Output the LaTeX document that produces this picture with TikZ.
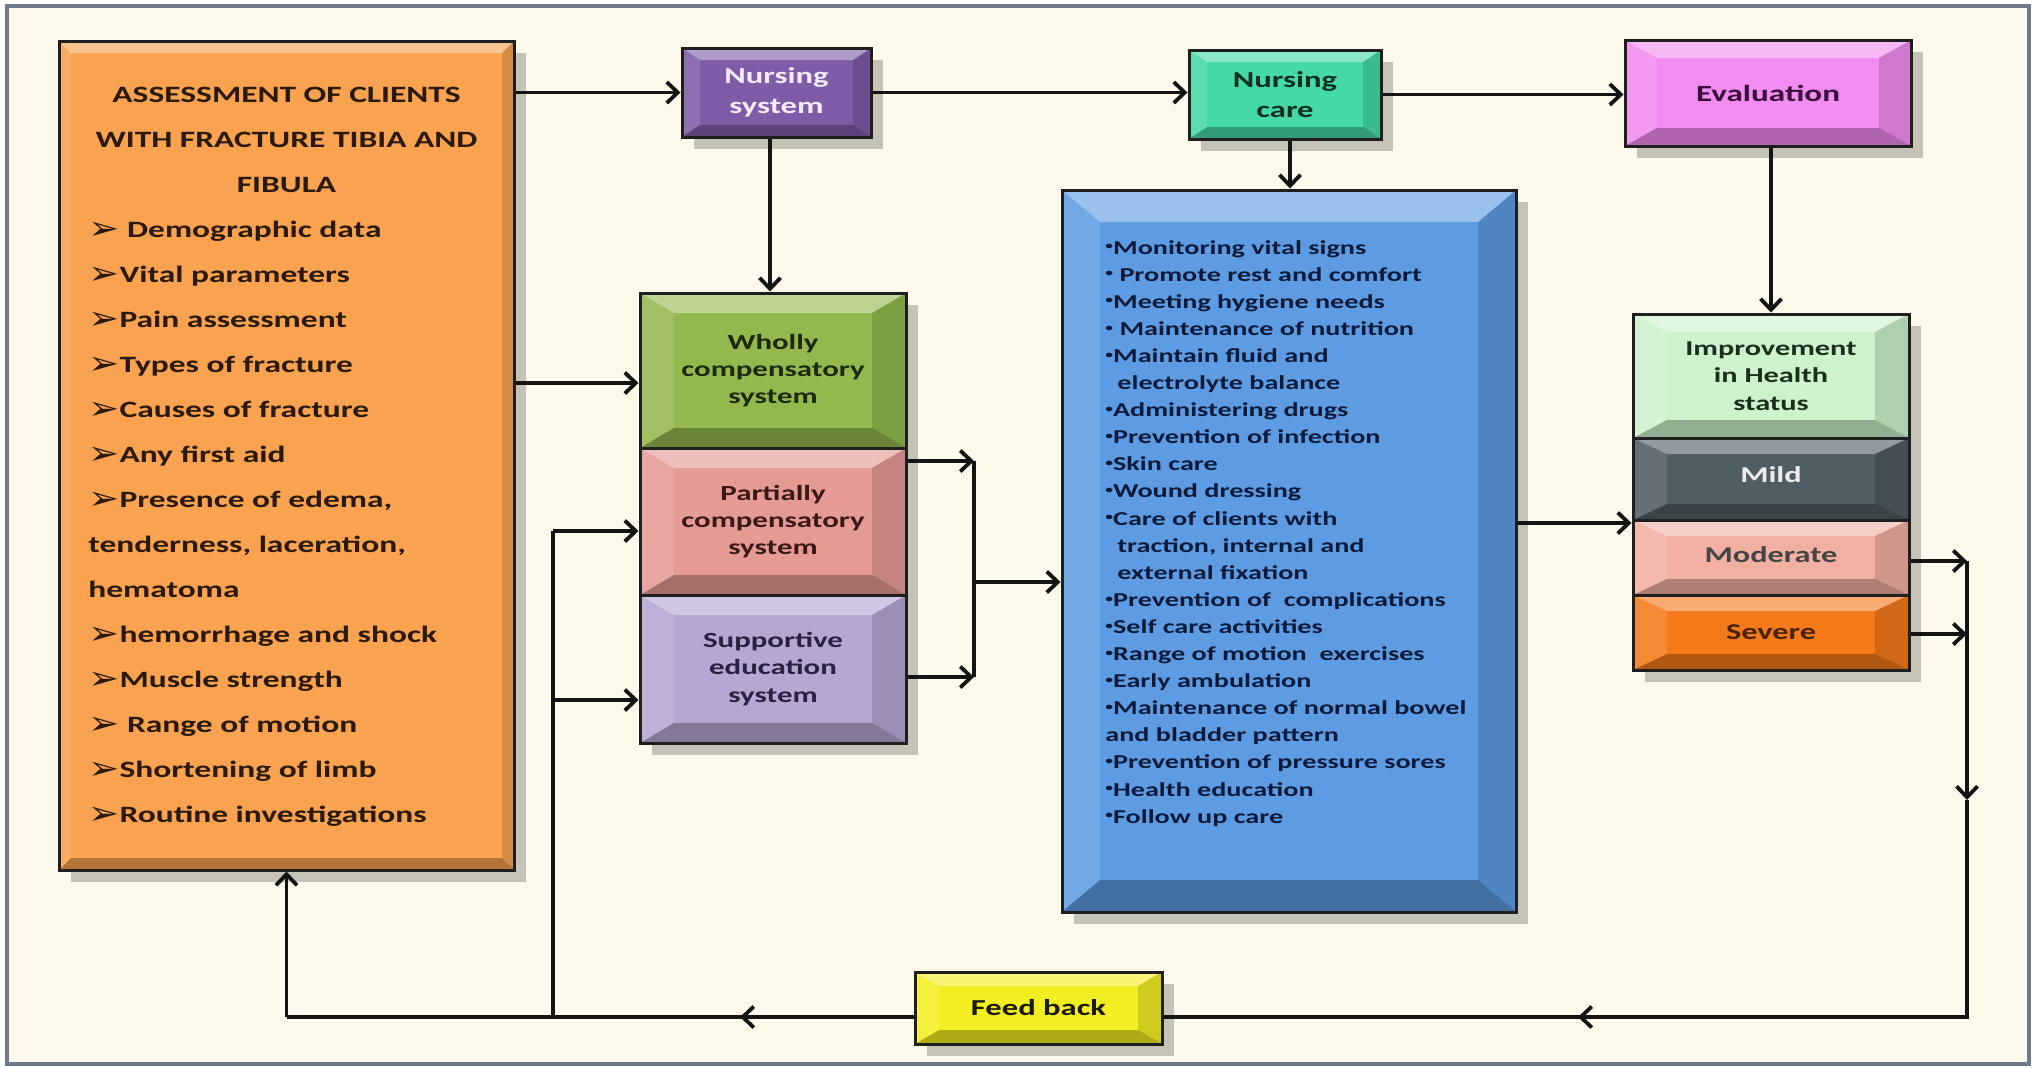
\documentclass[tikz,border=0pt]{standalone}
\usepackage{fontspec}
\setmainfont[FakeStretch=1.43]{Carlito}
\newfontfamily\dv[FakeStretch=1.1]{DejaVu Sans}
\usetikzlibrary{arrows.meta,shadows,calc}
\newcommand\fz[2]{\fontsize{#1}{#2}\selectfont}
\newcommand\arb{{\dv\fz{13}{13}\raisebox{-1pt}{\scalebox{1.3}[1.25]{➢}}}}
\newcommand\bul{\raisebox{0.45ex}{\scalebox{0.55}{•}}}
\definecolor{bgc}{HTML}{FDF9EA}
\definecolor{framec}{HTML}{6E7A8C}
\definecolor{orF}{HTML}{F9A24F}
\definecolor{puF}{HTML}{7F5CA8}
\definecolor{teF}{HTML}{45D9A5}
\definecolor{piF}{HTML}{F28CF0}
\definecolor{grF}{HTML}{93B84E}
\definecolor{paF}{HTML}{E59A94}
\definecolor{suF}{HTML}{B7A6D3}
\definecolor{blF}{HTML}{5D9CE2}
\definecolor{imF}{HTML}{CCF3CC}
\definecolor{miF}{HTML}{4F5D64}
\definecolor{moF}{HTML}{F2B0A3}
\definecolor{seF}{HTML}{F47A1A}
\definecolor{yeF}{HTML}{F3EE22}
\definecolor{obrown}{HTML}{2B1A0B}
\definecolor{bnavy}{HTML}{0B1A3A}
\definecolor{tdark}{HTML}{0F2F22}
\definecolor{pdark}{HTML}{3B0F3B}
\definecolor{gdark}{HTML}{1C2A0C}
\definecolor{rdark}{HTML}{3A1818}
\definecolor{ldark}{HTML}{2A2040}
\definecolor{idark}{HTML}{1E2E1E}
\definecolor{mdark}{HTML}{454545}
\definecolor{sdark}{HTML}{4A2205}
\definecolor{ydark}{HTML}{1A1A00}
\definecolor{nslight}{HTML}{F3ECFF}
\begin{document}
\begin{tikzpicture}[x=0.5pt,y=-0.5pt,
  box/.style={rectangle, draw=black!88, line width=1.5pt, inner sep=0pt, align=center,
    font=\bfseries\fz{11.2}{15},
    drop shadow={shadow xshift=6pt, shadow yshift=-6pt, opacity=.22, fill=black}},
  bev/.style 2 args={path picture={
    \path (path picture bounding box.north west) coordinate (pA)
          (path picture bounding box.north east) coordinate (pB)
          (path picture bounding box.south east) coordinate (pC)
          (path picture bounding box.south west) coordinate (pD);
    \fill[white,opacity=.38] (pA) -- (pB) -- ([shift={(-#1,-#2)}]pB) -- ([shift={(#1,-#2)}]pA) -- cycle;
    \fill[white,opacity=.12] (pA) -- ([shift={(#1,-#2)}]pA) -- ([shift={(#1,#2)}]pD) -- (pD) -- cycle;
    \fill[black,opacity=.14] (pB) -- (pC) -- ([shift={(-#1,#2)}]pC) -- ([shift={(-#1,-#2)}]pB) -- cycle;
    \fill[black,opacity=.28] (pD) -- (pC) -- ([shift={(-#1,#2)}]pC) -- ([shift={(#1,#2)}]pD) -- cycle;
  }},
  arr/.style={draw=black!92, line width=1.9pt, -{Straight Barb[length=5.5pt,width=10.5pt]}},
  ln/.style={draw=black!92, line width=1.9pt},
  otxt/.style={inner sep=0pt, font=\bfseries\fz{11.7}{14}, text=obrown},
  btxt/.style={inner sep=0pt, font=\bfseries\fz{9.85}{12}, text=bnavy},
]
\useasboundingbox (0,0) rectangle (2037,1067);
\fill[white] (0,0) rectangle (2037,1067);
\draw[fill=bgc, draw=framec, line width=1.6pt] (7,6) rectangle (2029,1064);

% boxes
\node[box, bev={6pt}{6pt}, fill=orF, minimum width=227.5pt, minimum height=414.5pt] (assess) at (286.5,455.5) {};
\node[box, bev={9pt}{6pt}, fill=puF, text=nslight, minimum width=94.5pt, minimum height=44.5pt, font=\bfseries\fz{11.4}{15}] (nsys) at (776.5,92.5) {Nursing\\system};
\node[box, bev={9pt}{6pt}, fill=teF, text=tdark, minimum width=96pt, minimum height=44.5pt, font=\bfseries\fz{11.4}{15}] (ncare) at (1285,94.5) {\raisebox{-3pt}{Nursing}\\\raisebox{-3pt}{care}};
\node[box, bev={16pt}{9pt}, fill=piF, text=pdark, minimum width=143pt, minimum height=53pt, font=\bfseries\fz{11.6}{15}] (eval) at (1768,93) {Evaluation};
\node[box, bev={17pt}{10pt}, fill=grF, text=gdark, minimum width=133pt, minimum height=77.5pt, font=\bfseries\fz{10.8}{13.6}] (wholly) at (773,370.5) {Wholly\\compensatory\\system};
\node[box, bev={17pt}{10pt}, fill=paF, text=rdark, minimum width=133pt, minimum height=73.5pt, font=\bfseries\fz{10.8}{13.6}] (partial) at (773,521.5) {Partially\\compensatory\\system};
\node[box, bev={17pt}{10pt}, fill=suF, text=ldark, minimum width=133pt, minimum height=74pt, font=\bfseries\fz{10.8}{13.6}] (support) at (773,669) {Supportive\\education\\system};
\node[box, bev={19pt}{16pt}, fill=blF, minimum width=227pt, minimum height=361pt] (blue) at (1289,551) {};
\node[box, bev={17pt}{9pt}, fill=imF, text=idark, minimum width=138pt, minimum height=62pt, font=\bfseries\fz{10.6}{13.6}] (impr) at (1771,376) {Improvement\\in Health\\status};
\node[box, bev={17pt}{8pt}, fill=miF, text=white!92!black, minimum width=138pt, minimum height=41pt, font=\bfseries\fz{11.3}{14}] (mild) at (1771,479) {\raisebox{4pt}{Mild}};
\node[box, bev={17pt}{8pt}, fill=moF, text=mdark, minimum width=138pt, minimum height=37.5pt, font=\bfseries\fz{11.3}{14}] (moder) at (1771,557.5) {\raisebox{3pt}{Moderate}};
\node[box, bev={17pt}{8pt}, fill=seF, text=sdark, minimum width=138pt, minimum height=37.5pt, font=\bfseries\fz{11.3}{14}] (severe) at (1771,632.5) {Severe};
\node[box, bev={12pt}{7pt}, fill=yeF, text=ydark, minimum width=123.5pt, minimum height=36pt, font=\bfseries\fz{11.4}{14}] (feed) at (1038.5,1008) {Feed back};

% assessment text
\foreach \t [count=\i from 0] in {{ASSESSMENT OF CLIENTS},{WITH FRACTURE TIBIA AND},{FIBULA}}
  \node[otxt, anchor=base] (ot\i) at (286.5, 102+45.06*\i) {\t};
\foreach \t [count=\i from 3] in {{\arb\ Demographic data},{\arb Vital parameters},{\arb Pain assessment},
  {\arb Types of fracture},{\arb Causes of fracture},{\arb Any first aid},{\arb Presence of edema,},
  {tenderness, laceration,},{hematoma},{\arb hemorrhage and shock},{\arb Muscle strength},
  {\arb\ Range of motion},{\arb Shortening of limb},{\arb Routine investigations}}
  \node[otxt, anchor=base west] (ot\i) at (88, 102+45.06*\i) {\t};

% nursing care list
\foreach \t [count=\i from 0] in {{\bul Monitoring vital signs},{\bul\ Promote rest and comfort},{\bul Meeting hygiene needs},
  {\bul\ Maintenance of nutrition},{\bul Maintain fluid and},{\hspace*{6pt}electrolyte balance},{\bul Administering drugs},
  {\bul Prevention of infection},{\bul Skin care},{\bul Wound dressing},{\bul Care of clients with},
  {\hspace*{6pt}traction, internal and},{\hspace*{6pt}external fixation},{\bul Prevention of\ \ complications},
  {\bul Self care activities},{\bul Range of motion\ \ exercises},{\bul Early ambulation},{\bul Maintenance of normal bowel},
  {and bladder pattern},{\bul Prevention of pressure sores},{\bul Health education},{\bul Follow up care}}
  \node[btxt, anchor=base west] (bt\i) at (1105, 254+27.1*\i) {\t};

% helper coordinates
\coordinate (vx) at (770,0);
\coordinate (vc) at (1290,0);
\coordinate (wA) at (0,383);
\coordinate (j1) at (974,461);
\coordinate (j2) at (974,677);
\coordinate (jm) at (974,582);
\coordinate (bm) at (0,523);
\coordinate (mo) at (1967,561);
\coordinate (se) at (1967,634);
\coordinate (md) at (1967,800);
\coordinate (fb) at (1967,1017);
\coordinate (fa) at (1578,1017);
\coordinate (ma) at (740,1017);
\coordinate (vl) at (553,1017);
\coordinate (p1) at (553,531);
\coordinate (p2) at (553,700);

% connectors
\draw[arr] (assess.east |- nsys.west) -- (nsys.west);
\draw[arr] (nsys.east) -- (nsys.east -| ncare.west);
\draw[arr] (ncare.east) -- (ncare.east -| eval.west);
\draw[arr] (nsys.south -| vx) -- (wholly.north -| vx);
\draw[arr] (assess.east |- wA) -- (wholly.west |- wA);
\draw[arr] (ncare.south -| vc) -- (blue.north -| vc);
\draw[arr] (eval.south -| impr.north) -- (impr.north);
\draw[arr] (partial.east |- j1) -- (j1);
\draw[arr] (support.east |- j2) -- (j2);
\draw[ln] (j1) -- (j2);
\draw[arr] (jm) -- (blue.west |- jm);
\draw[arr] (blue.east |- bm) -- (impr.west |- bm);
\draw[arr] (moder.east |- mo) -- (mo);
\draw[arr] (severe.east |- se) -- (se);
\draw[arr] (mo) -- (md);
\draw[ln] (md) -- (fb) -- (feed.east |- fb);
\draw[arr] (fb) -- (fa);
\draw[ln] (feed.west |- fb) -- (assess.south |- fb);
\draw[arr] (feed.west |- fb) -- (ma);
\draw[arr] (assess.south |- fb) -- (assess.south);
\draw[ln] (vl) -- (p1);
\draw[arr] (p1) -- (partial.west |- p1);
\draw[arr] (p2) -- (support.west |- p2);
\end{tikzpicture}
\end{document}
